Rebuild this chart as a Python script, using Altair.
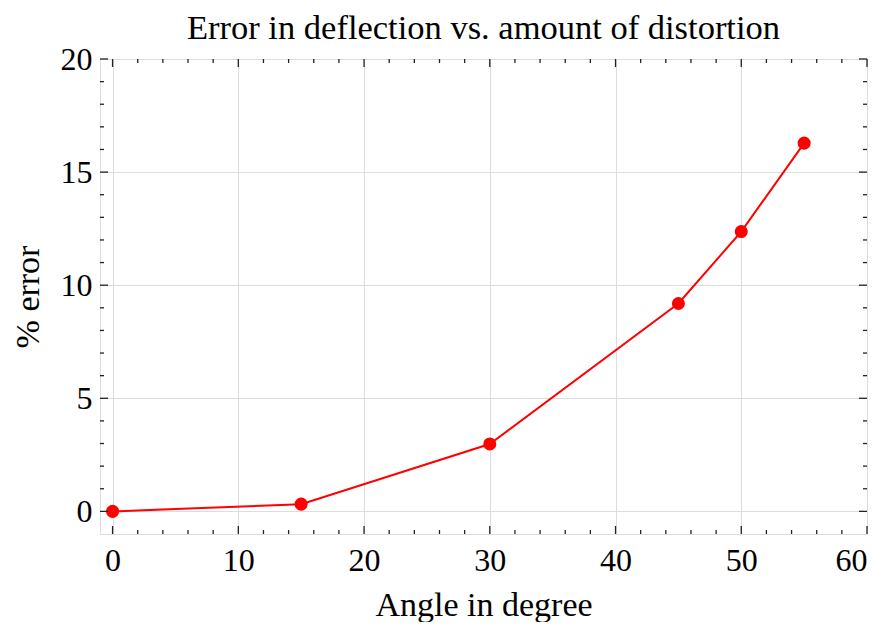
import altair as alt
import pandas as pd

angles = [0, 15, 30, 45, 50, 55]
errors = [0.0, 0.32, 2.98, 9.19, 12.37, 16.28]

x_major = [0, 10, 20, 30, 40, 50, 60]
x_minor = [2, 4, 6, 8, 12, 14, 16, 18, 22, 24, 26, 28, 32, 34, 36, 38, 42, 44, 46, 48, 52, 54, 56, 58]
y_major = [0, 5, 10, 15, 20]
y_minor = [1, 2, 3, 4, 6, 7, 8, 9, 11, 12, 13, 14, 16, 17, 18, 19]

W, H = 767, 475
FONT = "Liberation Serif"

df = pd.DataFrame({"angle": angles, "err": errors})
xs = alt.Scale(domain=[-1, 60], nice=False, zero=False)
ys = alt.Scale(domain=[-1, 20], nice=False, zero=False)

xaxis = alt.Axis(values=x_major, grid=True, ticks=False, domain=False, labelFont=FONT,
                 labelFontSize=32, labelColor="black", labelPadding=11, title="Angle in degree",
                 titleFont=FONT, titleFontSize=34, titleFontWeight="normal", titleColor="black",
                 titlePadding=12, gridColor="#dddddd", gridWidth=1)
yaxis = alt.Axis(values=y_major, grid=True, ticks=False, domain=False, labelFont=FONT,
                 labelFontSize=32, labelColor="black", labelPadding=8, title="% error",
                 titleFont=FONT, titleFontSize=34, titleFontWeight="normal", titleColor="black",
                 titlePadding=15, gridColor="#dddddd", gridWidth=1)

line = alt.Chart(df).mark_line(color="#ff0000", strokeWidth=2).encode(
    x=alt.X("angle:Q", scale=xs, axis=xaxis),
    y=alt.Y("err:Q", scale=ys, axis=yaxis),
)
pts = alt.Chart(df).mark_point(filled=True, color="#ff0000", size=170, opacity=1).encode(
    x=alt.X("angle:Q", scale=xs), y=alt.Y("err:Q", scale=ys)
)

tick_color = "#222222"
xmaj = pd.DataFrame({"v": x_major})
xmin = pd.DataFrame({"v": x_minor})
ymaj = pd.DataFrame({"v": y_major})
ymin = pd.DataFrame({"v": y_minor})

def xticks(d, length):
    b = alt.Chart(d).mark_rule(color=tick_color, strokeWidth=1.3).encode(
        x=alt.X("v:Q", scale=xs), y=alt.value(H), y2=alt.value(H - length))
    t = alt.Chart(d).mark_rule(color=tick_color, strokeWidth=1.3).encode(
        x=alt.X("v:Q", scale=xs), y=alt.value(0), y2=alt.value(length))
    return [b, t]

def yticks(d, length):
    l = alt.Chart(d).mark_rule(color=tick_color, strokeWidth=1.3).encode(
        y=alt.Y("v:Q", scale=ys), x=alt.value(0), x2=alt.value(length))
    r = alt.Chart(d).mark_rule(color=tick_color, strokeWidth=1.3).encode(
        y=alt.Y("v:Q", scale=ys), x=alt.value(W), x2=alt.value(W - length))
    return [l, r]

layers = [line, pts] + xticks(xmaj, 8) + xticks(xmin, 4) + yticks(ymaj, 8) + yticks(ymin, 4)

chart = alt.layer(*layers).properties(
    width=W, height=H,
    title=alt.TitleParams("Error in deflection vs. amount of distortion", font=FONT,
                          fontSize=34.5, fontWeight="normal", color="black", offset=0,
                          frame="group", dy=3),
    autosize=alt.AutoSizeParams(type="none"),
    padding={"left": 92, "top": 51, "right": 10, "bottom": 88},
).configure_view(stroke="#222222", strokeWidth=1.5).configure(background="white")

chart.save("out.html", embed_options={"renderer": "svg", "actions": False})
